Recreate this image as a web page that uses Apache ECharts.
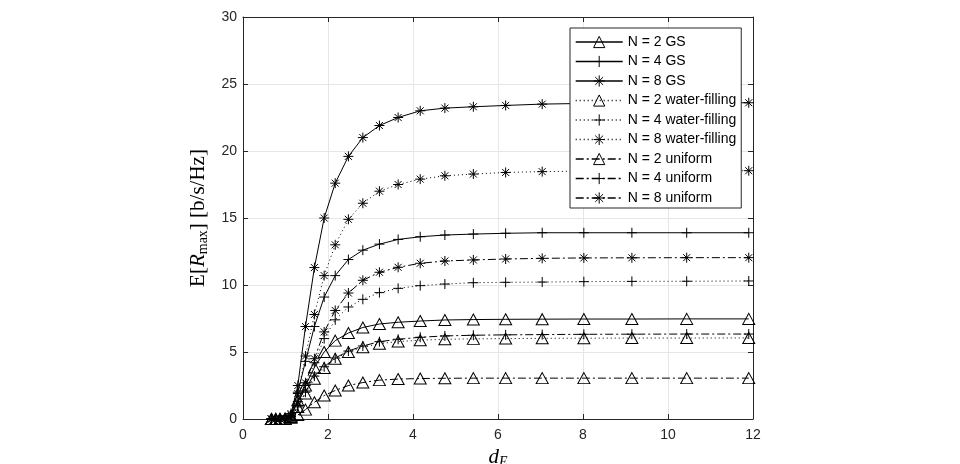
<!DOCTYPE html>
<html>
<head>
<meta charset="utf-8">
<script src="https://cdn.jsdelivr.net/npm/echarts@6/dist/echarts.min.js"></script>
<style>html,body{margin:0;padding:0;background:#fff;}#c{width:960px;height:464px;}</style>
</head>
<body>
<div id="c"></div>
<script>
// d_E sample points
var dE = [0.67, 0.77, 0.87, 0.99, 1.13, 1.29, 1.47, 1.68, 1.91, 2.17, 2.48, 2.82, 3.21, 3.65, 4.17, 4.75, 5.42, 6.18, 7.04, 8.02, 9.15, 10.44, 11.9];

var gs2  = [0, 0, 0, 0.02, 0.2, 1.4, 2.5, 3.85, 5.0, 5.85, 6.42, 6.83, 7.09, 7.22, 7.31, 7.39, 7.42, 7.44, 7.45, 7.46, 7.46, 7.47, 7.47];
var gs4  = [0, 0, 0, 0.03, 0.3, 2.0, 4.3, 6.9, 9.1, 10.7, 11.9, 12.6, 13.05, 13.4, 13.6, 13.73, 13.8, 13.86, 13.9, 13.9, 13.9, 13.9, 13.9];
var gs8  = [0, 0, 0, 0.05, 0.4, 2.5, 6.9, 11.3, 15.0, 17.6, 19.6, 21.0, 21.9, 22.5, 23.0, 23.2, 23.3, 23.4, 23.5, 23.55, 23.55, 23.6, 23.6];
var wf2  = [0, 0, 0, 0.02, 0.15, 0.9, 1.9, 3.0, 3.8, 4.5, 5.0, 5.35, 5.62, 5.78, 5.88, 5.95, 5.98, 6.0, 6.02, 6.03, 6.04, 6.04, 6.05];
var wf4  = [0, 0, 0, 0.02, 0.2, 1.0, 2.5, 4.2, 6.0, 7.4, 8.36, 8.93, 9.43, 9.75, 9.95, 10.07, 10.17, 10.2, 10.22, 10.25, 10.27, 10.28, 10.3];
var wf8  = [0, 0, 0, 0.03, 0.3, 1.9, 4.7, 7.8, 10.7, 13.0, 14.9, 16.1, 17.0, 17.5, 17.9, 18.15, 18.28, 18.4, 18.46, 18.5, 18.5, 18.52, 18.53];
var un2  = [0, 0, 0, 0.01, 0.1, 0.3, 0.7, 1.25, 1.75, 2.13, 2.5, 2.72, 2.9, 2.98, 3.02, 3.04, 3.05, 3.05, 3.05, 3.05, 3.05, 3.05, 3.05];
var un4  = [0, 0, 0, 0.02, 0.15, 0.9, 2.0, 3.2, 3.9, 4.55, 5.07, 5.45, 5.77, 5.95, 6.1, 6.2, 6.25, 6.28, 6.3, 6.32, 6.33, 6.34, 6.34];
var un8  = [0, 0, 0, 0.02, 0.2, 1.3, 2.7, 4.5, 6.5, 8.1, 9.4, 10.35, 10.95, 11.32, 11.62, 11.79, 11.87, 11.94, 11.99, 12.02, 12.03, 12.04, 12.04];

var names = ['N = 2 GS', 'N = 4 GS', 'N = 8 GS',
             'N = 2 water-filling', 'N = 4 water-filling', 'N = 8 water-filling',
             'N = 2 uniform', 'N = 4 uniform', 'N = 8 uniform'];
var values = [gs2, gs4, gs8, wf2, wf4, wf8, un2, un4, un8];

var TRI = 'triangle';
var PLUS = 'path://M5,0L5,10M0,5L10,5';
var STAR = 'path://M5,0L5,10M0,5L10,5M1.5,1.5L8.5,8.5M8.5,1.5L1.5,8.5';
var symbols = [TRI, PLUS, STAR, TRI, PLUS, STAR, TRI, PLUS, STAR];
var sizes = [[12, 11], 10, 10, [12, 11], 10, 10, [12, 11], 10, 10];
var dashes = ['solid', 'solid', 'solid', [1, 3], [1, 3], [1, 3], [8, 3, 2, 3], [8, 3, 2, 3], [8, 3, 2, 3]];

var series = names.map(function (n, i) {
  return {
    name: n,
    type: 'line',
    data: dE.map(function (x, k) { return [x, values[i][k]]; }),
    symbol: symbols[i],
    symbolSize: sizes[i],
    showAllSymbol: true,
    clip: true,
    lineStyle: { color: '#000', width: 1, type: dashes[i] },
    itemStyle: { color: 'rgba(0,0,0,0)', borderColor: '#000', borderWidth: 1 },
    z: 2
  };
});

var axisColor = '#262626';
var gridColor = '#e6e6e6';
var labelFont = { color: axisColor, fontSize: 14, fontFamily: 'Liberation Sans, Arial, sans-serif' };

var chart = echarts.init(document.getElementById('c'), null, { renderer: 'canvas' });
chart.setOption({
  animation: false,
  backgroundColor: '#fff',
  grid: { left: 243, top: 17, width: 510, height: 402, containLabel: false, outerBoundsMode: 'none' },
  legend: {
    orient: 'vertical',
    left: 570, top: 28,
    width: 170,
    padding: [7, 5, 3, 5],
    itemWidth: 47, itemHeight: 14, itemGap: 5.5,
    itemTextGap: 5,
    backgroundColor: '#fff',
    borderColor: axisColor, borderWidth: 1,
    itemStyle: { color: 'rgba(255,255,255,0)', borderColor: '#000', borderWidth: 1 },
    lineStyle: { width: 1.4, color: '#000' },
    textStyle: { color: '#000', fontSize: 14, lineHeight: 14, fontFamily: 'Liberation Sans, Arial, sans-serif' },
    data: names
  },
  xAxis: [{
    type: 'value', min: 0, max: 12, interval: 2, position: 'bottom',
    axisLine: { show: true, onZero: false, lineStyle: { color: axisColor, width: 1 } },
    axisTick: { show: true, inside: true, length: 5, lineStyle: { color: axisColor } },
    axisLabel: Object.assign({ margin: 9 }, labelFont),
    splitLine: { show: true, lineStyle: { color: gridColor, width: 1 } },
    name: '{i|d}{s|E}',
    nameLocation: 'middle', nameGap: 24,
    nameTextStyle: {
      rich: {
        i: { fontFamily: 'Liberation Serif', fontStyle: 'italic', fontSize: 21, lineHeight: 24, color: '#000' },
        s: { fontFamily: 'Liberation Serif', fontStyle: 'italic', fontSize: 14, lineHeight: 12, verticalAlign: 'bottom', color: '#000' }
      }
    }
  }, {
    type: 'value', min: 0, max: 12, interval: 2, position: 'top',
    axisLine: { show: true, onZero: false, lineStyle: { color: axisColor, width: 1 } },
    axisTick: { show: true, inside: true, length: 5, lineStyle: { color: axisColor } },
    axisLabel: { show: false },
    splitLine: { show: false }
  }],
  yAxis: [{
    type: 'value', min: 0, max: 30, interval: 5, position: 'left',
    axisLine: { show: true, onZero: false, lineStyle: { color: axisColor, width: 1 } },
    axisTick: { show: true, inside: true, length: 5, lineStyle: { color: axisColor } },
    axisLabel: Object.assign({ margin: 6 }, labelFont),
    splitLine: { show: true, lineStyle: { color: gridColor, width: 1 } },
    name: '{n|E[}{i|R}{s|max}{n|] [b/s/Hz]}',
    nameLocation: 'middle', nameGap: 21, nameRotate: 90,
    nameTextStyle: {
      rich: {
        n: { fontFamily: 'Liberation Serif', fontSize: 21, lineHeight: 24, color: '#000' },
        i: { fontFamily: 'Liberation Serif', fontStyle: 'italic', fontSize: 21, lineHeight: 24, color: '#000' },
        s: { fontFamily: 'Liberation Serif', fontSize: 14, lineHeight: 12, verticalAlign: 'bottom', color: '#000' }
      }
    }
  }, {
    type: 'value', min: 0, max: 30, interval: 5, position: 'right',
    axisLine: { show: true, onZero: false, lineStyle: { color: axisColor, width: 1 } },
    axisTick: { show: true, inside: true, length: 5, lineStyle: { color: axisColor } },
    axisLabel: { show: false },
    splitLine: { show: false }
  }],
  series: series
});
</script>
</body>
</html>
